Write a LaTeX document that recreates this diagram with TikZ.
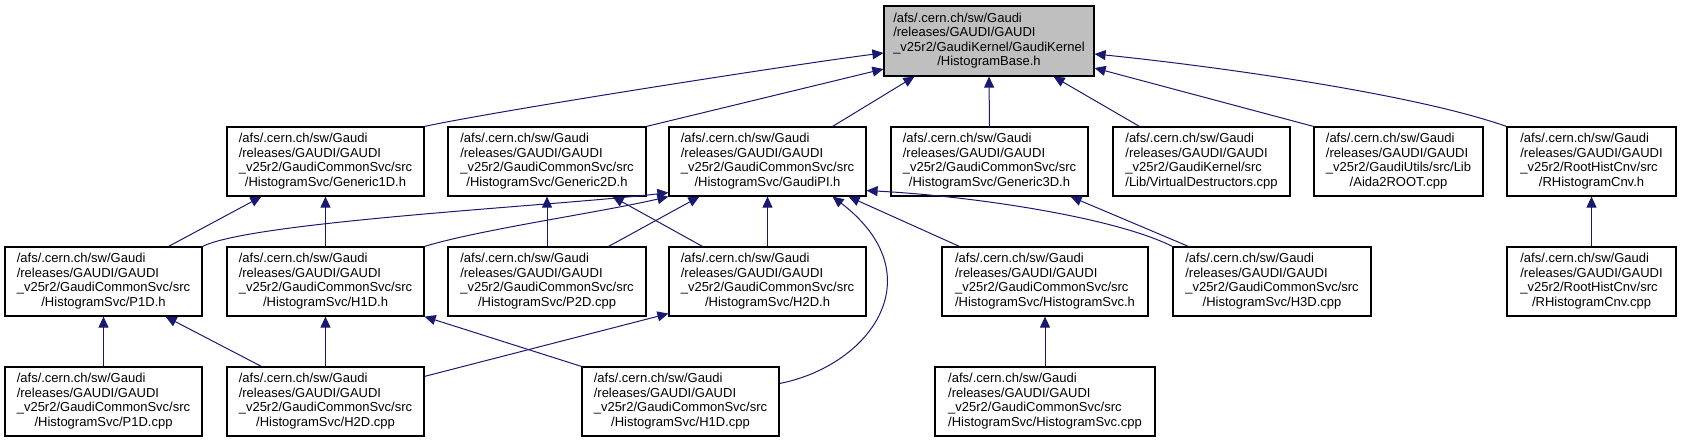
\documentclass[tikz,border=0pt]{standalone}
\usepackage{fontspec}
\setmainfont{Liberation Sans}
\usetikzlibrary{arrows.meta}
\definecolor{edgeblue}{HTML}{191970}
\definecolor{rootgray}{HTML}{BFBFBF}
\newcommand{\gaudipath}[2]{\begin{tabular}{@{}l@{}}/afs/.cern.ch/sw/Gaudi\\
  /releases/GAUDI/GAUDI\\#1\\\multicolumn{1}{@{}c@{}}{#2}\end{tabular}}
\tikzset{
every path/.style={line width=1pt}
, every node/.style={font=\fontsize{13}{14.5}\selectfont}
, filenode/.style={draw=black, line width=1.2pt, inner sep=0pt, minimum height=69pt}
, rootnode/.style={filenode, fill=rootgray, minimum height=70pt}
, dep/.style={draw=edgeblue, -{Triangle[length=11pt,width=10pt]}}}

\begin{document}
\begin{tikzpicture}[x=1pt, y=-1pt]
\useasboundingbox (0,0) rectangle (1681,443);
% top
\node[rootnode, minimum width=210pt] at (989, 41) (root) {\gaudipath{\_v25r2/GaudiKernel/GaudiKernel}{/HistogramBase.h}};
% second row
\node[filenode, minimum width=197pt] at (325.5, 161.5) (g1d) {\gaudipath{\_v25r2/GaudiCommonSvc/src}{/HistogramSvc/Generic1D.h}};
\node[filenode, minimum width=198pt] at (547, 161.5) (g2d) {\gaudipath{\_v25r2/GaudiCommonSvc/src}{/HistogramSvc/Generic2D.h}};
\node[filenode, minimum width=197pt] at (767.5, 161.5) (gpi) {\gaudipath{\_v25r2/GaudiCommonSvc/src}{/HistogramSvc/GaudiPI.h}};
\node[filenode, minimum width=197pt] at (989.5, 161.5) (g3d) {\gaudipath{\_v25r2/GaudiCommonSvc/src}{/HistogramSvc/Generic3D.h}};
\node[filenode, minimum width=177pt] at (1201.5, 161.5) (vd) {\gaudipath{\_v25r2/GaudiKernel/src}{/Lib/VirtualDestructors.cpp}};
\node[filenode, minimum width=169pt] at (1398.5, 161.5) (a2r) {\gaudipath{\_v25r2/GaudiUtils/src/Lib}{/Aida2ROOT.cpp}};
\node[filenode, minimum width=169pt] at (1591.5, 161.5) (rhch) {\gaudipath{\_v25r2/RootHistCnv/src}{/RHistogramCnv.h}};
% third row
\node[filenode, minimum width=197pt] at (103.5, 281.5) (p1dh) {\gaudipath{\_v25r2/GaudiCommonSvc/src}{/HistogramSvc/P1D.h}};
\node[filenode, minimum width=197pt] at (325.5, 281.5) (h1dh) {\gaudipath{\_v25r2/GaudiCommonSvc/src}{/HistogramSvc/H1D.h}};
\node[filenode, minimum width=198pt] at (547, 281.5) (p2dc) {\gaudipath{\_v25r2/GaudiCommonSvc/src}{/HistogramSvc/P2D.cpp}};
\node[filenode, minimum width=197pt] at (767.5, 281.5) (h2dh) {\gaudipath{\_v25r2/GaudiCommonSvc/src}{/HistogramSvc/H2D.h}};
\node[filenode, minimum width=206pt] at (1045, 281.5) (hsvch) {\gaudipath{\_v25r2/GaudiCommonSvc/src}{/HistogramSvc/HistogramSvc.h}};
\node[filenode, minimum width=198pt] at (1272, 281.5) (h3dc) {\gaudipath{\_v25r2/GaudiCommonSvc/src}{/HistogramSvc/H3D.cpp}};
\node[filenode, minimum width=169pt] at (1591.5, 281.5) (rhcc) {\gaudipath{\_v25r2/RootHistCnv/src}{/RHistogramCnv.cpp}};
% bottom row
\node[filenode, minimum width=197pt] at (103.5, 401.5) (p1dc) {\gaudipath{\_v25r2/GaudiCommonSvc/src}{/HistogramSvc/P1D.cpp}};
\node[filenode, minimum width=197pt] at (325.5, 401.5) (h2dc) {\gaudipath{\_v25r2/GaudiCommonSvc/src}{/HistogramSvc/H2D.cpp}};
\node[filenode, minimum width=197pt] at (680.5, 401.5) (h1dc) {\gaudipath{\_v25r2/GaudiCommonSvc/src}{/HistogramSvc/H1D.cpp}};
\node[filenode, minimum width=220pt] at (1045, 401.5) (hsvcc) {\gaudipath{\_v25r2/GaudiCommonSvc/src}{/HistogramSvc/HistogramSvc.cpp}};
% includes of HistogramBase.h
\draw [dep] (g1d.north east) .. controls +(80,-17) and +(-80,10) .. ([yshift=-12pt]root.west);
\draw [dep] (g2d.north east) -- ([yshift=-28pt]root.west);
\draw [dep] ([xshift=-34pt]gpi.north east) -- ([xshift=31pt]root.south west);
\draw [dep] (g3d.north) -- (root.south);
\draw [dep] ([xshift=27pt]vd.north west) -- ([xshift=-41pt]root.south east);
\draw [dep] (a2r.north west) -- ([yshift=-27pt]root.east);
\draw [dep] (rhch.north west) .. controls +(-100,-35) and +(100,10) .. ([yshift=-13pt]root.east);
% second row targets
\draw [dep] ([xshift=-34pt]p1dh.north east) -- ([xshift=35pt]g1d.south west);
\draw [dep] (h1dh.north) -- (g1d.south);
\draw [dep] (p2dc.north) -- (g2d.south);
\draw [dep] ([xshift=34pt]h2dh.north west) -- ([xshift=-34pt]g2d.south east);
\draw [dep] (p1dh.north east) .. controls +(50,-25) and +(-110,13) .. ([yshift=4pt]gpi.south west);
\draw [dep] (h1dh.north east) .. controls +(56,-17) and +(-69,16) .. (gpi.south west);
\draw [dep] ([xshift=-38pt]p2dc.north east) -- ([xshift=31pt]gpi.south west);
\draw [dep] (h2dh.north) -- (gpi.south);
\draw [dep] ([yshift=18pt]h1dc.east) .. controls +(91,-18) and +(103,79) .. ([xshift=-34pt]gpi.south east);
\draw [dep] ([xshift=18pt]hsvch.north west) -- ([xshift=-18pt]gpi.south east);
\draw [dep] (h3dc.north west) .. controls +(-60,-30) and +(100,5) .. ([yshift=6pt]gpi.south east);
\draw [dep] ([xshift=16pt]h3dc.north west) -- ([xshift=-18pt]g3d.south east);
\draw [dep] (rhcc.north) -- (rhch.south);
% third row targets
\draw [dep] (p1dc.north) -- (p1dh.south);
\draw [dep] ([xshift=35pt]h2dc.north west) -- ([xshift=-37pt]p1dh.south east);
\draw [dep] (h2dc.north) -- (h1dh.south);
\draw [dep] ([yshift=-10pt]h2dc.north east) -- ([yshift=3pt]h2dh.south west);
\draw [dep] (h1dc.north west) -- (h1dh.south east);
\draw [dep] (hsvcc.north) -- (hsvch.south);
\end{tikzpicture}
\end{document}
